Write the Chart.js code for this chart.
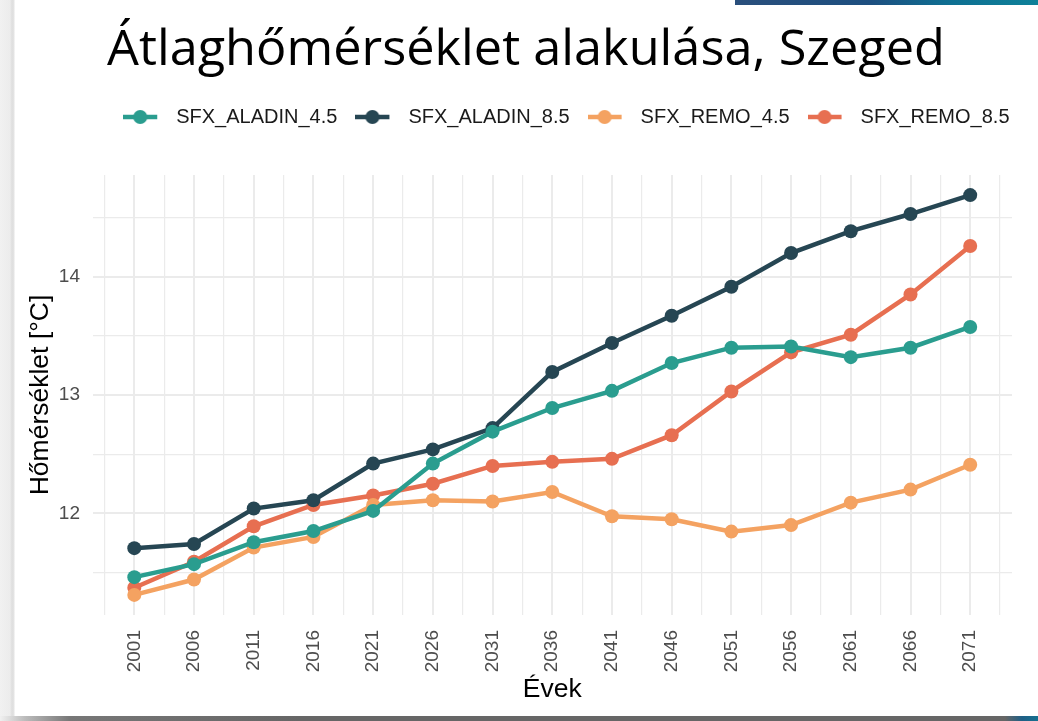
<!DOCTYPE html>
<html lang="hu">
<head>
<meta charset="utf-8">
<title>Átlaghőmérséklet alakulása, Szeged</title>
<script src="https://cdn.jsdelivr.net/npm/chart.js@4.4.1/dist/chart.umd.min.js"></script>
<style>
    html, body { margin: 0; padding: 0; background: #fff; overflow: hidden; }
    body { width: 1038px; height: 721px; position: relative; }
    #shade-left { position: absolute; left: 0; top: 0; width: 15px; height: 721px;
        background: linear-gradient(to right, #f1f1f1 0px, #ececec 10px, #dedede 12px, #e4e4e4 14px, #fff 15px); }
    #shade-bottom { position: absolute; left: 0; bottom: 0; width: 1038px; height: 5px;
        background: linear-gradient(to right, #f0f0f0 0px, #bbb 25px, #777 70px, #666 300px, #666 1005px, #1f5f86 1022px, #16708f 1038px); }
    #bar-top { position: absolute; left: 735px; top: 0; width: 303px; height: 5px;
        background: linear-gradient(to right, #2a4f7c 0%, #1d4f80 45%, #0f6f92 70%, #0e8199 100%); }
    #title { position: absolute; left: 107px; top: 21px; margin: 0; white-space: nowrap;
        font-family: 'Open Sans', 'Noto Sans', sans-serif; font-weight: 400; font-size: 50px;
        line-height: 1; color: #000; transform-origin: 0 0; }
    #chart-box { position: absolute; left: 0; top: 80px; width: 1038px; height: 641px; }
</style>
</head>
<body>
<div id="shade-left"></div>
<div id="bar-top"></div>
<h1 id="title">Átlaghőmérséklet alakulása, Szeged</h1>
<div id="chart-box"><canvas id="temp-chart"></canvas></div>
<div id="shade-bottom"></div>
<script>
// Éves átlaghőmérséklet, Szeged - 4 modellfuttatás
const years = [2001, 2006, 2011, 2016, 2021, 2026, 2031, 2036, 2041, 2046, 2051, 2056, 2061, 2066, 2071];
const aladin45 = [11.46, 11.57, 11.755, 11.85, 12.02, 12.42, 12.69, 12.89, 13.035, 13.27, 13.40, 13.41, 13.32, 13.40, 13.575];
const aladin85 = [11.705, 11.74, 12.04, 12.11, 12.42, 12.54, 12.72, 13.195, 13.44, 13.67, 13.915, 14.20, 14.385, 14.53, 14.69];
const remo45 = [11.31, 11.44, 11.71, 11.80, 12.07, 12.11, 12.10, 12.18, 11.975, 11.95, 11.845, 11.90, 12.09, 12.20, 12.41];
const remo85 = [11.37, 11.59, 11.89, 12.07, 12.15, 12.25, 12.40, 12.435, 12.46, 12.66, 13.03, 13.36, 13.51, 13.85, 14.26];
const seriesNames = ['SFX_ALADIN_4.5', 'SFX_ALADIN_8.5', 'SFX_REMO_4.5', 'SFX_REMO_8.5'];
const seriesColors = ['#2a9d8f', '#264653', '#f4a261', '#e76f51'];
const yTicks = [11.5, 12, 12.5, 13, 13.5, 14, 14.5];
const yLabels = [12, 13, 14];

const tickFont = "'Liberation Sans', Arial, sans-serif";

// fit the slide title to its width in the reference
(function fitTitle() {
    const el = document.getElementById('title');
    const w = el.getBoundingClientRect().width;
    el.style.transform = 'scaleX(' + (838 / w) + ')';
})();

// ggplot-like legend key: short line with a dot in the middle
function legendKey(color) {
    const c = document.createElement('canvas');
    c.width = 43; c.height = 18;
    const g = c.getContext('2d');
    g.strokeStyle = color;
    g.lineWidth = 4.5;
    g.beginPath(); g.moveTo(0, 9); g.lineTo(34, 9); g.stroke();
    g.fillStyle = color;
    g.beginPath(); g.arc(17, 9, 7, 0, Math.PI * 2); g.fill();
    return c;
}
const legendKeys = seriesColors.map(legendKey);

// extra room between legend and plot panel
const legendGap = {
    id: 'legendGap',
    beforeInit(chart) {
        const fit = chart.legend.fit;
        chart.legend.fit = function() {
            fit.bind(chart.legend)();
            this.height += 38;
        };
    }
};

const allSeries = [aladin45, aladin85, remo45, remo85];

new Chart(document.getElementById('temp-chart'), {
    type: 'line',
    data: {
        datasets: allSeries.map((vals, i) => ({
            label: seriesNames[i],
            data: years.map((yr, j) => ({ x: yr, y: vals[j] })),
            borderColor: seriesColors[i],
            backgroundColor: seriesColors[i],
            borderWidth: 4.5,
            pointRadius: 7,
            pointHoverRadius: 7,
            pointBorderWidth: 0,
            tension: 0,
            fill: false
        }))
    },
    options: {
        responsive: true,
        maintainAspectRatio: false,
        animation: false,
        layout: { padding: { top: 9, right: 10.5, left: 0, bottom: 0 } },
        plugins: {
            legend: {
                position: 'top',
                align: 'end',
                labels: {
                    usePointStyle: true,
                    pointStyleWidth: 43,
                    padding: 18,
                    color: '#1a1a1a',
                    font: { family: tickFont, size: 20 },
                    generateLabels(chart) {
                        const items = Chart.defaults.plugins.legend.labels.generateLabels(chart);
                        items.forEach((it, i) => { it.pointStyle = legendKeys[i]; });
                        return items;
                    }
                }
            },
            tooltip: { enabled: false }
        },
        scales: {
            x: {
                type: 'linear',
                min: 1997.5,
                max: 2074.5,
                afterBuildTicks(scale) {
                    const t = [];
                    years.forEach(y => { t.push({ value: y - 2.5 }); t.push({ value: y }); });
                    t.push({ value: years[years.length - 1] + 2.5 });
                    scale.ticks = t;
                },
                afterFit(scale) { scale.height = 106; },
                ticks: {
                    autoSkip: false,
                    minRotation: 90,
                    maxRotation: 90,
                    padding: 15,
                    color: '#4d4d4d',
                    font: { family: tickFont, size: 19 },
                    callback: v => years.includes(v) ? String(v) : ''
                },
                grid: {
                    drawTicks: false,
                    color: '#ebebeb',
                    lineWidth: ctx => (ctx.tick && years.includes(ctx.tick.value)) ? 2 : 1.2
                },
                border: { display: false },
                title: {
                    display: true,
                    text: 'Évek',
                    color: '#000',
                    font: { family: tickFont, size: 26.5 },
                    padding: { top: 0, bottom: 15 }
                }
            },
            y: {
                min: 11.14,
                max: 14.86,
                afterBuildTicks(scale) {
                    scale.ticks = yTicks.map(v => ({ value: v }));
                },
                afterFit(scale) { scale.width = 92.5; },
                ticks: {
                    padding: 12.5,
                    color: '#4d4d4d',
                    font: { family: tickFont, size: 19 },
                    callback: v => yLabels.includes(v) ? String(v) : ''
                },
                grid: {
                    drawTicks: false,
                    color: '#ebebeb',
                    lineWidth: ctx => (ctx.tick && yLabels.includes(ctx.tick.value)) ? 2 : 1.2
                },
                border: { display: false },
                title: {
                    display: true,
                    text: 'Hőmérséklet [°C]',
                    color: '#000',
                    font: { family: tickFont, size: 26.5 },
                    padding: { top: 24.4, bottom: 0 }
                }
            }
        }
    },
    plugins: [legendGap]
});
</script>
</body>
</html>
